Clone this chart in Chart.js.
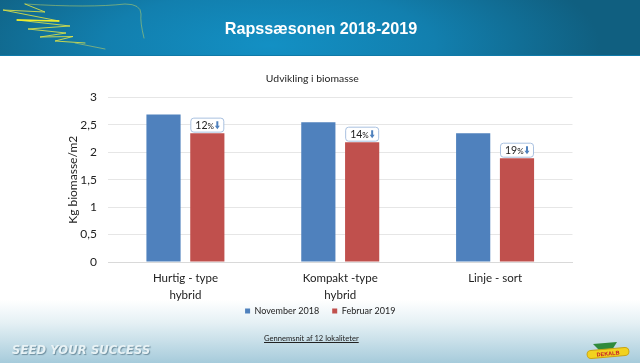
<!DOCTYPE html>
<html lang="da">
<head>
<meta charset="utf-8">
<title>Rapssæsonen 2018-2019</title>
<script src="https://cdn.jsdelivr.net/npm/chart.js@4"></script>
<style>
  html, body { margin: 0; padding: 0; }
  body { position: relative; width: 640px; height: 363px; overflow: hidden; background: #fff; font-family: Lato, sans-serif; }
  #footer { position: absolute; left: 0; right: 0; top: 300px; height: 63px; background: linear-gradient(#fff 0%, #e6f1f5 35%, #a6cbdb 100%); }
  #header { position: absolute; left: 0; top: 0; width: 640px; height: 55px; background: radial-gradient(ellipse 330px 110px at 270px 45px, #1390c4 0%, #127fae 50%, #105f80 100%); border-bottom: 1px solid #0f7aa8; }
  #wing { position: absolute; left: 0; top: 0; }
  #title { position: absolute; left: 0; top: 19px; width: 640px; padding-left: 1px; text-align: center; color: #fff; font: bold 16.2px "Liberation Sans", sans-serif; }
  #slogan { position: absolute; left: 12px; top: 343px; color: #e8f2f5; font: italic bold 11.5px "DejaVu Sans", sans-serif; letter-spacing: 0.15px; text-shadow: 1px 1px 1px #6f8f9f; }
  #note { position: absolute; left: 264px; top: 333px; width: 95px; white-space: nowrap; font: 7.6px Lato, sans-serif; color: #222; text-decoration: underline; }
  #logo { position: absolute; left: 585px; top: 340px; }
  #wrap { position: absolute; left: 0; top: 0; width: 640px; height: 363px; }
</style>
</head>
<body>
<div id="footer"></div>
<div id="header"></div>
<svg id="wing" width="150" height="55" fill="none" stroke-linecap="round">
  <path d="M25 4 Q90 8 125 4 Q141 4 141 14 Q140 22 144 38" stroke="#c8d860" stroke-opacity=".5" stroke-width="1"/>
  <path d="M25 4 L45 12 L3 10 L59 21 L17 20 L70 26 L28 29 L66 33 L40 37 L73 36.5 L55 41 L85 43" stroke="#dfe445" stroke-opacity=".85" stroke-width="1"/>
  <path d="M17 20 L59 21" stroke="#efee2a" stroke-width="1.4"/>
  <path d="M75 43 Q90 46 105 49" stroke="#a0c070" stroke-opacity=".7" stroke-width="1"/>
</svg>
<div id="wrap"><canvas id="chart"></canvas></div>
<div id="title">Rapssæsonen 2018-2019</div>
<div id="note">Gennemsnit af 12 lokaliteter</div>
<div id="slogan">SEED YOUR SUCCESS</div>
<svg id="logo" width="46" height="20">
  <path d="M8 4 L32 2 L27 10 L14 10 Z" fill="#2f8a3c"/>
  <rect x="2" y="9" width="42" height="8" rx="4" fill="#f2d21f" stroke="#c9a414" transform="rotate(-5 23 13)"/>
  <text x="23" y="15.5" text-anchor="middle" font-family="Liberation Sans" font-size="5.5" font-weight="bold" fill="#c4202a" transform="rotate(-5 23 13)">DEKALB</text>
</svg>
<script>
const categories = [['Hurtig - type', 'hybrid'], ['Kompakt -type', 'hybrid'], ['Linje - sort']];
const november2018 = [2.69, 2.55, 2.35];
const februar2019 = [2.35, 2.185, 1.893];
const dropLabels = ['12', '14', '19'];
const yTicks = { 0: '0', 0.5: '0,5', 1: '1', 1.5: '1,5', 2: '2', 2.5: '2,5', 3: '3' };

const FONT = 'Lato, sans-serif';

// White callouts above the February bars
const dropCallouts = {
  id: 'dropCallouts',
  afterLayout(chart) {
    // legend goes up next to the tick labels and a bit right of its box
    chart.legend.left += 8;
    chart.legend.right += 8;
    chart.legend.top -= 13.5;
    chart.legend.bottom -= 13.5;
  },
  afterDatasetsDraw(chart) {
    const { ctx } = chart;
    chart.getDatasetMeta(1).data.forEach((bar, i) => {
      const w = 33, h = 14;
      const x = bar.x - w / 2, y = bar.y - h - 1;
      ctx.save();
      ctx.beginPath();
      ctx.roundRect(x, y, w, h, 3);
      ctx.fillStyle = '#fff';
      ctx.fill();
      ctx.strokeStyle = '#a9c1e0';
      ctx.lineWidth = 1;
      ctx.stroke();

      ctx.fillStyle = '#222';
      ctx.textBaseline = 'middle';
      ctx.font = '10.5px ' + FONT;
      ctx.fillText(dropLabels[i], x + 4.5, y + h / 2 + 0.5);
      const numW = ctx.measureText(dropLabels[i]).width;
      ctx.font = '8px ' + FONT;
      ctx.fillText('%', x + 4.5 + numW, y + h / 2 + 1);

      // down arrow
      const ax = x + w - 6.5;
      ctx.fillStyle = '#4f81bd';
      ctx.beginPath();
      ctx.moveTo(ax - 1, y + 3);
      ctx.lineTo(ax + 1, y + 3);
      ctx.lineTo(ax + 1, y + 7.5);
      ctx.lineTo(ax + 2.5, y + 7.5);
      ctx.lineTo(ax, y + 11);
      ctx.lineTo(ax - 2.5, y + 7.5);
      ctx.lineTo(ax - 1, y + 7.5);
      ctx.closePath();
      ctx.fill();
      ctx.restore();
    });
  }
};

new Chart(document.getElementById('chart'), {
  type: 'bar',
  data: {
    labels: categories,
    datasets: [
      { label: 'November 2018', data: november2018, backgroundColor: '#4f81bd' },
      { label: 'Februar 2019', data: februar2019, backgroundColor: '#c0504d' }
    ]
  },
  options: {
    responsive: true,
    maintainAspectRatio: false,
    animation: false,
    layout: { padding: { left: 52, right: 67.5, top: 72, bottom: 24 } },
    datasets: { bar: { categoryPercentage: 0.566, barPercentage: 0.78 } },
    plugins: {
      tooltip: { enabled: false },
      title: {
        display: true,
        text: 'Udvikling i biomasse',
        color: '#222',
        font: { family: FONT, size: 10.4, weight: 'normal' },
        padding: { top: 0, bottom: 13 }
      },
      legend: {
        position: 'bottom',
        labels: {
          usePointStyle: true,
          pointStyle: 'rect',
          boxWidth: 5,
          boxHeight: 5,
          padding: 13,
          color: '#222',
          font: { family: FONT, size: 9 }
        }
      }
    },
    scales: {
      x: {
        grid: { display: false },
        border: { color: '#d9d9d9' },
        ticks: { color: '#222', padding: 0, font: { family: FONT, size: 11.5, lineHeight: 1.45 }, maxRotation: 0 },
        afterFit(axis) { axis.height = 45; }
      },
      y: {
        min: 0,
        max: 3,
        grid: { color: '#e6e6e6', drawTicks: false },
        border: { display: false },
        afterBuildTicks(axis) { axis.ticks = Object.keys(yTicks).map(Number).sort((a, b) => a - b).map((value) => ({ value })); },
        ticks: {
          color: '#222',
          padding: 11,
          font: { family: FONT, size: 12 },
          callback: (v) => yTicks[v]
        },
        title: {
          display: true,
          text: 'Kg biomasse/m2',
          color: '#222',
          padding: { top: 14, bottom: 0 },
          font: { family: FONT, size: 12 }
        },
        afterFit(axis) { axis.width = 56; }
      }
    }
  },
  plugins: [dropCallouts]
});
</script>
</body>
</html>
